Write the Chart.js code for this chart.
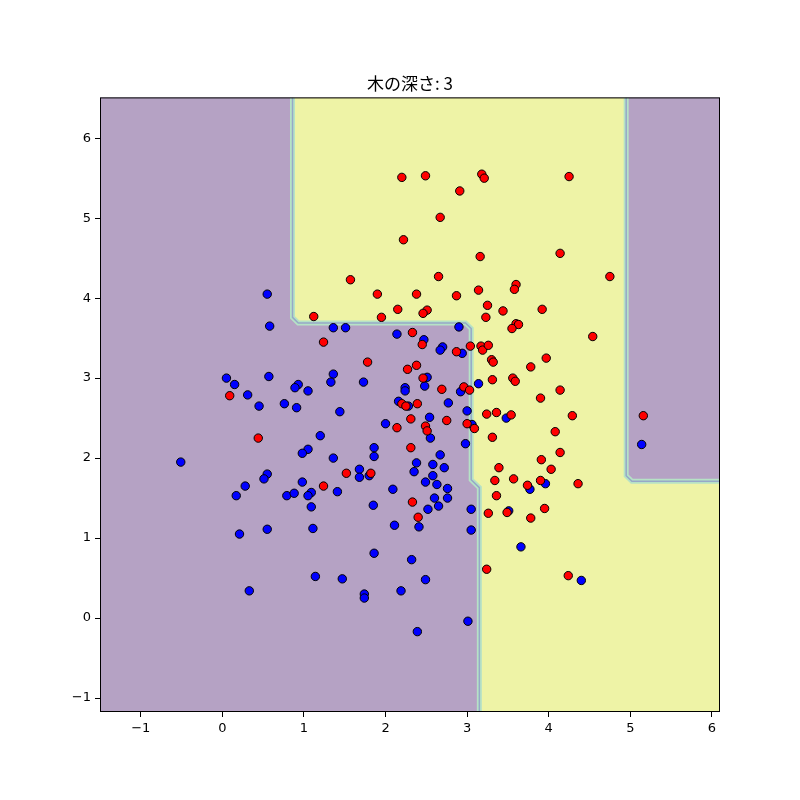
<!DOCTYPE html>
<html>
<head>
<meta charset="utf-8">
<script src="https://cdn.jsdelivr.net/npm/chart.js@4"></script>
<style>
  html, body { margin: 0; background: #fff; }
</style>
</head>
<body>
<canvas id="chart" width="800" height="800"></canvas>
<script>
// class 1 (red) and class 0 (blue) samples, [x, y]
const redPoints = [
  [2.20,5.51],[2.49,5.53],[3.18,5.55],[3.21,5.50],[4.25,5.52],[2.91,5.34],[2.67,5.01],[2.22,4.73],
  [4.14,4.56],[3.16,4.52],[2.65,4.27],[1.57,4.23],[4.75,4.27],[1.90,4.05],[2.38,4.05],[2.87,4.03],
  [3.14,4.10],[3.60,4.17],[3.58,4.11],[3.25,3.91],[3.23,3.76],[2.15,3.86],[2.51,3.85],[2.46,3.81],
  [1.95,3.76],[1.12,3.77],[3.92,3.86],[3.44,3.84],[3.60,3.68],[3.63,3.67],[3.55,3.62],[2.33,3.57],
  [1.24,3.45],[2.45,3.42],[2.87,3.33],[3.04,3.40],[3.17,3.40],[3.19,3.35],[3.26,3.41],[3.30,3.23],
  [3.32,3.20],[1.78,3.20],[2.38,3.16],[2.27,3.11],[2.46,3.00],[2.69,2.86],[2.96,2.89],[3.03,2.85],
  [3.31,2.98],[2.20,2.68],[2.25,2.65],[2.39,2.68],[3.24,2.55],[3.36,2.57],[2.31,2.49],[2.75,2.47],
  [2.14,2.38],[2.49,2.40],[2.51,2.34],[3.00,2.43],[3.09,2.37],[3.31,2.26],[2.31,2.13],[1.52,1.81],
  [1.82,1.81],[3.34,1.72],[3.36,1.53],[3.39,1.88],[0.09,2.78],[0.44,2.25],[1.24,1.65],[4.54,3.52],
  [3.97,3.25],[3.78,3.14],[3.56,3.00],[3.59,2.96],[4.14,2.85],[3.90,2.75],[3.54,2.54],[4.29,2.53],
  [5.16,2.53],[4.08,2.33],[4.14,2.07],[3.91,1.98],[4.03,1.86],[3.57,1.74],[3.74,1.66],[3.90,1.72],
  [4.36,1.68],[3.49,1.32],[3.78,1.25],[3.95,1.37],[4.24,0.53],[2.33,1.45],[3.26,1.31],[2.40,1.26],
  [3.24,0.61]
]
const bluePoints = [
  [0.55,4.05],[0.58,3.65],[1.36,3.63],[1.51,3.63],[2.90,3.64],[2.14,3.55],[2.47,3.48],[2.70,3.39],
  [2.67,3.35],[2.94,3.31],[0.57,3.02],[0.05,3.00],[0.15,2.92],[0.31,2.79],[0.45,2.65],[0.93,2.92],
  [0.89,2.88],[1.05,2.84],[0.76,2.68],[0.91,2.63],[1.36,3.05],[1.33,2.95],[1.73,2.95],[2.51,3.01],
  [2.24,2.88],[2.24,2.84],[2.48,2.90],[2.92,2.83],[3.14,2.93],[2.16,2.71],[2.28,2.65],[2.77,2.69],
  [1.44,2.58],[3.00,2.59],[2.54,2.51],[2.00,2.43],[3.06,2.42],[2.55,2.25],[2.98,2.18],[1.86,2.13],
  [1.86,2.02],[1.36,2.00],[2.67,2.04],[2.38,1.94],[2.58,1.92],[2.72,1.88],[2.35,1.83],[2.58,1.78],
  [1.68,1.86],[1.68,1.76],[1.80,1.78],[2.49,1.70],[2.63,1.67],[2.76,1.62],[1.41,1.58],[2.09,1.61],
  [2.60,1.50],[2.76,1.50],[1.20,2.28],[1.05,2.11],[0.98,2.06],[-0.51,1.95],[0.55,1.80],[0.51,1.74],
  [0.28,1.65],[0.17,1.53],[0.98,1.70],[0.79,1.53],[0.88,1.56],[1.09,1.57],[1.05,1.53],[3.48,2.50],
  [5.14,2.17],[3.77,1.61],[3.96,1.68],[3.51,1.34],[3.66,0.89],[4.40,0.47],[1.85,1.41],[2.52,1.36],
  [2.65,1.40],[3.05,1.36],[2.11,1.16],[2.41,1.14],[3.05,1.10],[1.86,0.81],[2.32,0.73],[1.47,0.49],
  [2.49,0.48],[2.19,0.34],[1.74,0.30],[1.74,0.25],[3.01,-0.04],[2.39,-0.17],[1.09,1.39],[1.11,1.12],
  [0.55,1.11],[0.21,1.05],[1.14,0.52],[0.33,0.34]
]

const xTicks = [-1, 0, 1, 2, 3, 4, 5, 6]
const yTicks = [-1, 0, 1, 2, 3, 4, 5, 6]

// tree split thresholds (depth 3)
const splitX = [0.86, 3.05, 3.15, 4.95]
const splitY = [3.69, 1.68, 1.71]

const X_MIN = -1.5, X_MAX = 6.1, Y_MIN = -1.175, Y_MAX = 6.51
const cut = 0.07

const [xl, xm, xb, xr] = splitX
const [yh, ys, yr] = splitY

// boundary between the two classes (left part and right part)
const edgeLeft = [
  [xl, Y_MAX], [xl, yh + cut], [xl + cut, yh], [xm - cut, yh], [xm, yh - cut],
  [xm, ys + 0.05], [xb, ys - 0.05], [xb, Y_MIN]
]
const edgeRight = [[xr, Y_MAX], [xr, yr + cut], [xr + cut, yr], [X_MAX, yr]]
const yellowShape = edgeLeft.concat([[X_MAX, Y_MIN]], edgeRight.slice().reverse())

const purple = 'rgb(181,162,196)'
const yellow = 'rgb(238,243,166)'

const toXY = arr => arr.map(p => ({x: p[0], y: p[1]}))

const bgPlugin = {
  id: 'bg',
  beforeDatasetsDraw(chart) {
    const {ctx, chartArea: a} = chart
    ctx.save()
    ctx.fillStyle = purple
    ctx.fillRect(a.left, a.top, a.right - a.left, a.bottom - a.top)
    ctx.restore()
  },
  afterDatasetsDraw(chart) {
    const {ctx, chartArea: a} = chart
    ctx.save()
    ctx.strokeStyle = '#000'
    ctx.lineWidth = 1
    ctx.strokeRect(a.left + 0.5, a.top + 0.5, a.right - a.left - 1, a.bottom - a.top - 1)
    ctx.restore()
  }
}

const minus = v => String(v).replace('-', '\u2212')

const edgeStyle = (data, color, width, order) => ({
  type: 'line', data: toXY(data), borderColor: color, borderWidth: width,
  pointRadius: 0, fill: false, clip: 0, order: order, tension: 0
})

new Chart(document.getElementById('chart'), {
  type: 'scatter',
  data: {
    datasets: [
      {
        data: toXY(redPoints), backgroundColor: '#ff0000', borderColor: '#000',
        borderWidth: 1, pointRadius: 4.2, order: 0
      },
      {
        data: toXY(bluePoints), backgroundColor: '#0000ff', borderColor: '#000',
        borderWidth: 1, pointRadius: 4.2, order: 1
      },
      edgeStyle(edgeLeft, 'rgb(150,168,200)', 1.5, 2),
      edgeStyle(edgeRight, 'rgb(150,168,200)', 1.5, 2),
      edgeStyle(edgeLeft, 'rgb(182,226,198)', 5, 3),
      edgeStyle(edgeRight, 'rgb(182,226,198)', 5, 3),
      {
        type: 'line', data: toXY(yellowShape), backgroundColor: yellow,
        borderWidth: 0, pointRadius: 0, fill: 'shape', clip: 0, order: 4, tension: 0
      }
    ]
  },
  options: {
    responsive: false,
    animation: false,
    layout: { padding: { top: 73, right: 80, bottom: 0, left: 0 } },
    plugins: {
      legend: { display: false },
      tooltip: { enabled: false },
      title: {
        display: true,
        fullSize: false, // centre over the plot area
        text: '木の深さ: 3',
        color: '#000',
        font: { family: 'Noto Sans CJK JP', size: 17, weight: 'normal' },
        padding: { top: 0, bottom: 4 }
      }
    },
    scales: {
      x: {
        type: 'linear', min: X_MIN, max: X_MAX,
        afterFit: s => { s.height = 88 },
        afterBuildTicks: s => { s.ticks = xTicks.map(v => ({value: v})) },
        grid: { drawOnChartArea: false, color: '#000', tickLength: 5 },
        border: { display: false },
        ticks: { color: '#000', padding: 4, maxRotation: 0, font: { family: 'DejaVu Sans', size: 13 }, callback: minus }
      },
      y: {
        type: 'linear', min: Y_MIN, max: Y_MAX,
        afterFit: s => { s.width = 100 },
        afterBuildTicks: s => { s.ticks = yTicks.map(v => ({value: v})) },
        grid: { drawOnChartArea: false, color: '#000', tickLength: 5 },
        border: { display: false },
        ticks: { color: '#000', padding: 4, font: { family: 'DejaVu Sans', size: 13 }, callback: minus }
      }
    }
  },
  plugins: [bgPlugin]
})
</script>
</body>
</html>
